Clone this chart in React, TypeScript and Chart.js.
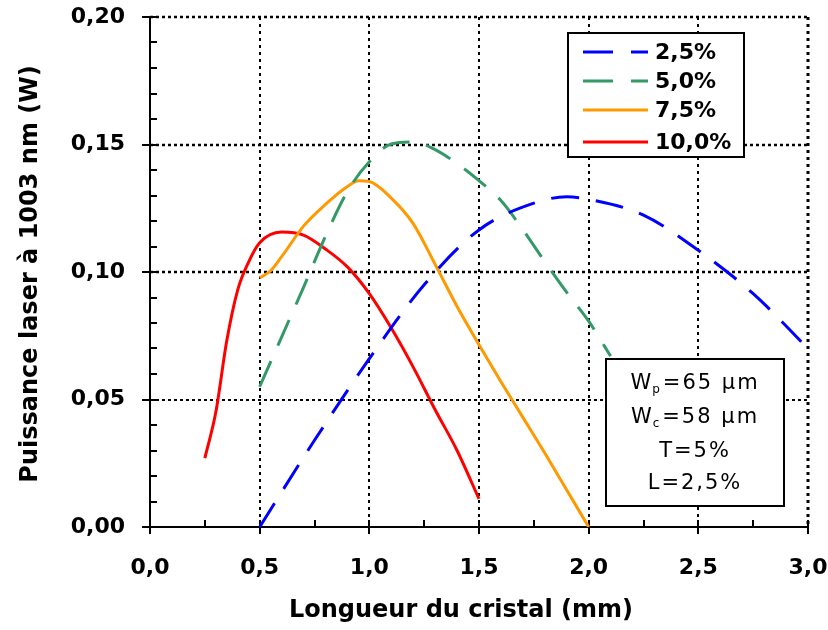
import React, { useEffect, useRef } from "react";
import { Chart, registerables } from "chart.js";

Chart.register(...registerables);

// ---- data ----
const xMajorTicks = [0, 0.5, 1.0, 1.5, 2.0, 2.5, 3.0];
const yMajorTicks = [0, 0.05, 0.1, 0.15, 0.2];
const xMinorStep = 0.25;
const yMinorStep = 0.01;

const blueX = [0.5, 0.75, 1.0, 1.25, 1.5, 1.75, 1.9, 2.0, 2.25, 2.5, 2.75, 3.0];
const blueY = [0.0, 0.034, 0.066, 0.095, 0.1165, 0.127, 0.1295, 0.1285, 0.1223, 0.1085, 0.0915, 0.07];

const greenX = [0.5, 0.6, 0.7, 0.8, 0.9, 1.0, 1.1, 1.2, 1.3, 1.4, 1.5, 1.6, 1.7, 1.8, 1.9, 2.0, 2.1];
const greenY = [0.055, 0.0745, 0.094, 0.114, 0.1316, 0.1432, 0.1502, 0.151, 0.148, 0.1425, 0.1358, 0.128, 0.1166, 0.104, 0.092, 0.0807, 0.067];

const orangeX = [0.5, 0.55, 0.6, 0.7, 0.8, 0.9, 0.95, 1.0, 1.1, 1.2, 1.3, 1.4, 1.5, 1.6, 1.7, 1.8, 1.9, 2.0];
const orangeY = [0.0977, 0.1005, 0.106, 0.118, 0.1265, 0.1335, 0.1358, 0.1355, 0.129, 0.119, 0.103, 0.0865, 0.0715, 0.057, 0.043, 0.029, 0.0145, 0.0];

const redX = [0.25, 0.3, 0.35, 0.4, 0.45, 0.5, 0.6, 0.7, 0.8, 0.9, 1.0, 1.1, 1.2, 1.3, 1.4, 1.5];
const redY = [0.027, 0.045, 0.073, 0.093, 0.104, 0.1115, 0.1157, 0.1145, 0.109, 0.102, 0.0915, 0.078, 0.0627, 0.046, 0.03, 0.011];

const seriesLabels = ["2,5%", "5,0%", "7,5%", "10,0%"];
const seriesColors = ["#0000FF", "#339966", "#FF9900", "#FF0000"];
const seriesDashed = [true, true, false, false];

const xTitle = "Longueur du cristal (mm)";
const yTitle = "Puissance laser à 1003 nm (W)";

const infoLines = [
  { main: "W", sub: "p", rest: "=65 µm" },
  { main: "W", sub: "c", rest: "=58 µm" },
  { main: "T=5%", sub: "", rest: "" },
  { main: "L=2,5%", sub: "", rest: "" },
];

const FONT = "'DejaVu Sans', sans-serif";
const DASH = [28, 17];

const toPts = (xs: number[], ys: number[]) => xs.map((x, i) => ({ x, y: ys[i] }));

const overlay = {
  id: "overlay",
  beforeDatasetsDraw(chart: any) {
    const { ctx, chartArea: a, scales } = chart;
    const x = scales.x;
    const y = scales.y;
    ctx.save();
    ctx.strokeStyle = "#000";
    ctx.lineCap = "butt";
    // dotted grid
    ctx.setLineDash([3, 3]);
    for (const v of yMajorTicks) {
      if (v === 0) continue;
      const py = Math.round(y.getPixelForValue(v));
      ctx.lineWidth = v === 0.05 ? 2 : 2.5;
      ctx.beginPath();
      ctx.moveTo(a.left, py);
      ctx.lineTo(a.right, py);
      ctx.stroke();
    }
    ctx.setLineDash([3, 4]);
    for (const v of xMajorTicks) {
      if (v === 0) continue;
      const px = Math.round(x.getPixelForValue(v));
      ctx.lineWidth = v === 3 ? 3 : 2;
      ctx.beginPath();
      ctx.moveTo(px, a.top);
      ctx.lineTo(px, a.bottom);
      ctx.stroke();
    }
    ctx.setLineDash([]);
    // axes
    ctx.lineWidth = 2;
    ctx.beginPath();
    ctx.moveTo(a.left, a.top);
    ctx.lineTo(a.left, a.bottom);
    ctx.lineTo(a.right, a.bottom);
    ctx.stroke();
    // y ticks
    for (let v = 0; v <= 0.2 + 1e-9; v += yMinorStep) {
      const py = Math.round(y.getPixelForValue(v));
      const major = yMajorTicks.some((t) => Math.abs(t - v) < 1e-6);
      ctx.beginPath();
      ctx.moveTo(major ? a.left - 8 : a.left, py);
      ctx.lineTo(a.left + 7, py);
      ctx.stroke();
    }
    // x ticks
    for (let v = 0; v <= 3 + 1e-9; v += xMinorStep) {
      const px = Math.round(x.getPixelForValue(v));
      const major = xMajorTicks.some((t) => Math.abs(t - v) < 1e-6);
      ctx.beginPath();
      ctx.moveTo(px, major ? a.bottom + 7 : a.bottom);
      ctx.lineTo(px, a.bottom - 7);
      ctx.stroke();
    }
    ctx.restore();
  },
  afterDraw(chart: any) {
    const { ctx } = chart;
    ctx.save();
    // axis titles
    ctx.fillStyle = "#000";
    ctx.font = `bold 24px ${FONT}`;
    ctx.textAlign = "center";
    ctx.textBaseline = "middle";
    ctx.fillText(xTitle, 461, 611);
    ctx.save();
    ctx.translate(31, 274);
    ctx.rotate(-Math.PI / 2);
    ctx.fillText(yTitle, 0, 0);
    ctx.restore();

    // legend box
    ctx.fillStyle = "#fff";
    ctx.fillRect(568, 33, 176, 124);
    ctx.strokeStyle = "#000";
    ctx.lineWidth = 2;
    ctx.strokeRect(568, 33, 176, 124);
    const rows = [52, 81, 110, 142];
    for (let i = 0; i < seriesLabels.length; i++) {
      ctx.strokeStyle = seriesColors[i];
      ctx.lineWidth = 3;
      ctx.setLineDash(seriesDashed[i] ? [30, 18] : []);
      ctx.beginPath();
      ctx.moveTo(583, rows[i]);
      ctx.lineTo(648, rows[i]);
      ctx.stroke();
      ctx.setLineDash([]);
      ctx.fillStyle = "#000";
      ctx.font = `bold 22px ${FONT}`;
      ctx.textAlign = "left";
      ctx.textBaseline = "middle";
      ctx.fillText(seriesLabels[i], 655, rows[i] + 1);
    }

    // info box
    ctx.fillStyle = "#fff";
    ctx.fillRect(606, 359, 178, 147);
    ctx.strokeStyle = "#000";
    ctx.lineWidth = 2;
    ctx.strokeRect(606, 359, 178, 147);
    const infoRows = [384, 418, 452, 484];
    const cx = 695;
    (ctx as any).letterSpacing = "2px";
    for (let i = 0; i < infoLines.length; i++) {
      const l = infoLines[i];
      const mainFont = `21px ${FONT}`;
      const subFont = `12px ${FONT}`;
      ctx.font = mainFont;
      const w1 = ctx.measureText(l.main).width;
      const w3 = ctx.measureText(l.rest).width;
      ctx.font = subFont;
      const w2 = l.sub ? ctx.measureText(l.sub).width : 0;
      let sx = cx - (w1 + w2 + w3) / 2;
      ctx.fillStyle = "#000";
      ctx.textAlign = "left";
      ctx.textBaseline = "middle";
      ctx.font = mainFont;
      ctx.fillText(l.main, sx, infoRows[i]);
      sx += w1;
      if (l.sub) {
        ctx.font = subFont;
        ctx.fillText(l.sub, sx - 1, infoRows[i] + 6);
        sx += w2;
      }
      ctx.font = mainFont;
      ctx.fillText(l.rest, sx, infoRows[i]);
    }
    (ctx as any).letterSpacing = "0px";
    ctx.restore();
  },
};

export default function App() {
  const ref = useRef<HTMLCanvasElement | null>(null);
  useEffect(() => {
    document.body.style.margin = "0";
    const canvas = ref.current;
    if (!canvas) return;
    const mk = (xs: number[], ys: number[], i: number) => ({
      label: seriesLabels[i],
      data: toPts(xs, ys),
      borderColor: seriesColors[i],
      backgroundColor: seriesColors[i],
      borderWidth: 3,
      borderDash: seriesDashed[i] ? DASH : [],
      pointRadius: 0,
      fill: false,
      cubicInterpolationMode: "monotone" as const,
    });
    const chart = new Chart(canvas, {
      type: "line",
      data: {
        datasets: [
          mk(blueX, blueY, 0),
          mk(greenX, greenY, 1),
          mk(orangeX, orangeY, 2),
          mk(redX, redY, 3),
        ],
      },
      options: {
        responsive: false,
        animation: false,
        devicePixelRatio: 1,
        layout: { padding: { top: 17, right: 20, left: 0, bottom: 0 } },
        plugins: { legend: { display: false }, tooltip: { enabled: false } },
        scales: {
          x: {
            type: "linear",
            min: 0,
            max: 3,
            grid: { display: false, drawTicks: false },
            border: { display: false },
            ticks: {
              stepSize: 0.5,
              padding: 28,
              color: "#000",
              font: { family: FONT, size: 22, weight: "bold" },
              maxRotation: 0,
              callback: (v: any) => Number(v).toFixed(1).replace(".", ","),
            },
            afterFit: (s: any) => {
              s.height = 103;
              s.paddingLeft = 0;
              s.paddingRight = 0;
            },
          },
          y: {
            type: "linear",
            min: 0,
            max: 0.2,
            grid: { display: false, drawTicks: false },
            border: { display: false },
            ticks: {
              stepSize: 0.05,
              padding: 25,
              color: "#000",
              font: { family: FONT, size: 22, weight: "bold" },
              callback: (v: any) => Number(v).toFixed(2).replace(".", ","),
            },
            afterFit: (s: any) => {
              s.width = 150;
              s.paddingTop = 0;
              s.paddingBottom = 0;
            },
          },
        },
      },
      plugins: [overlay],
    });
    return () => chart.destroy();
  }, []);
  return (
    <div style={{ width: 828, height: 630 }}>
      <canvas ref={ref} width={828} height={630} style={{ display: "block" }} />
    </div>
  );
}
